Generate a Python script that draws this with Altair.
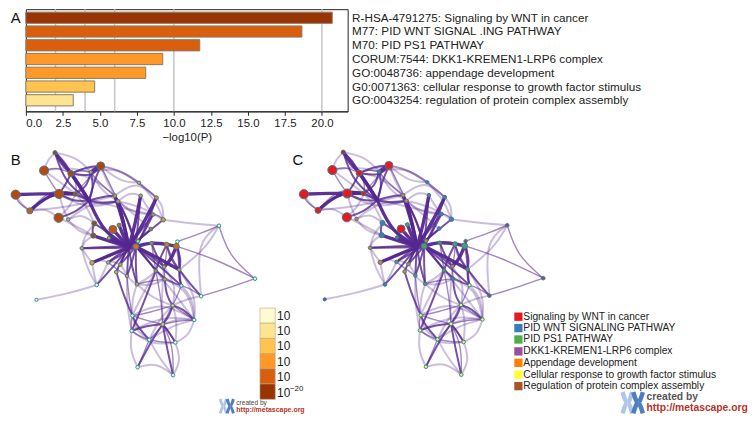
import altair as alt
import pandas as pd

# ---------- bar panel ----------
terms = ["R-HSA-4791275: Signaling by WNT in cancer", "M77: PID WNT SIGNAL .ING PATHWAY",
         "M70: PID PS1 PATHWAY", "CORUM:7544: DKK1-KREMEN1-LRP6 complex",
         "GO:0048736: appendage development", "G0:0071363: cellular response to growth factor stimulus",
         "GO:0043254: regulation of protein complex assembly"]
log_p = [20.7, 18.65, 11.75, 9.25, 8.1, 4.65, 3.2]
bar_colors = ["#993404", "#D95F0E", "#D95F0E", "#FE9929", "#FE9929", "#FEC44F", "#FEE391"]
grid_vals = [2, 4, 6, 10, 20]
tick_vals = [0, 2.5, 5, 7.5, 10, 12.5, 15, 17.5, 20]

# ---------- network nodes (panel B coordinates) ----------
node_x = [52.7, 41.7, 68.7, 88.7, 98.7, 13, 56.7, 73.3, 27.3, 56.3, 66, 137.3, 139, 113, 116.3, 155, 151.7, 161.7,
          149.3, 111, 117.3, 107, 92.3, 91.3, 79.7, 90, 106.3, 118.5, 114.5, 125.3, 94.7, 135.3, 136.3, 134.3, 150,
          165.3, 175, 176, 218, 254.3, 200, 180, 178, 162.7, 154.3, 163.3, 171.3, 193, 130.7, 130, 161.3, 147.7,
          174, 136, 171.7, 34]
node_y = [150.7, 168.7, 171.7, 170.3, 164, 193, 192.3, 192.3, 209.3, 216.3, 218, 181, 194, 194, 199.7, 196, 213,
          218.3, 227.7, 228, 223.7, 236.7, 222, 234.3, 247, 261.7, 261.3, 263.5, 271, 275, 284, 283.3, 240, 245.3,
          242, 243.3, 245, 240.3, 224.3, 277.7, 295.3, 284.7, 268.7, 265.7, 269.7, 278.3, 304.7, 319.3, 315, 330.3,
          323.7, 339.3, 342, 367, 375, 299]
node_size = [18, 85, 38, 12, 65, 85, 85, 22, 38, 85, 12, 12, 13, 14, 14, 14, 14, 20, 14, 65, 16, 12, 26, 26, 13, 20,
             12, 13, 14, 13, 14, 14, 12, 34, 13, 22, 34, 12, 13, 13, 13, 12, 13, 13, 13, 13, 13, 13, 13, 13, 15, 13,
             13, 13, 13, 10]
fill_b = ["#8A4F24", "#B5490F", "#A64A14", "#D29A4A", "#A8480F", "#B5490F", "#B5490F", "#8A5A2B", "#C0601C", "#B5490F",
          "#B8B070", "#C8B060", "#C8A050", "#C89A45", "#C89A45", "#C89A45", "#B8924A", "#D8963C", "#9A7A40", "#C0561A",
          "#A87A3A", "#C8A050", "#8A4F24", "#8A4F24", "#B8B070", "#E0A040", "#B8B070", "#C8A050", "#E0A040", "#C8A050",
          "#E4FBD4", "#C8A050", "#B8E0A8", "#D8701C", "#A89050", "#D8781C", "#D06818", "#E4FBD4", "#E4FBD4", "#E4FBD4",
          "#E4FBD4", "#D0ECA0", "#C8A050", "#C8A050", "#A89050", "#C8A050", "#E0C860", "#E4FBD4", "#E4FBD4", "#E4FBD4",
          "#D8C860", "#E4FBD4", "#E4FBD4", "#E4FBD4", "#E4FBD4", "#E4FBD4"]
RED, BLU, GRN, TAN, GRY, YGN = "#E41A1C", "#2F86B8", "#3CA56A", "#C98A35", "#5A6570", "#DFF77A"
fill_c = ["#8C3A3A", RED, RED, BLU, RED, RED, RED, "#C02A30", RED, RED,
          TAN, BLU, BLU, TAN, TAN, BLU, BLU, BLU, BLU, RED,
          GRN, BLU, BLU, BLU, TAN, TAN, GRN, TAN, TAN, GRN,
          BLU, GRN, TAN, GRN, GRN, GRN, GRN, GRY, GRY, GRY,
          GRY, YGN, GRN, TAN, GRN, BLU, YGN, YGN, YGN, YGN,
          YGN, YGN, YGN, YGN, YGN, "#3F5FA8"]
panel_dx = [0, 290.6]
panel_dy = [0, -0.5]
H = (127, 246)
U = (87, 199)

# (from node, to node, class, control point)
edges_faint = [
    (1, 0, "f", (45, 158)), (1, 7, "f", (60, 182)), (1, 3, "f", (65, 165)), (5, 8, "f", (18, 202)), (9, 8, "f", (42, 206)),
    (9, 7, "f", (68, 205)), (10, 22, "f", (80, 212)), (10, 6, "f", (60, 205)), (10, 14, "f", (90, 200)),
    (3, 11, "f", (115, 165)), (4, 11, "f", (118, 180)), (4, 13, "f", (105, 180)), (11, 15, "f", (148, 190)),
    (13, 15, "f", (135, 178)), (14, 12, "f", (128, 190)), (12, 16, "f", (145, 205)), (15, 17, "f", (162, 205)),
    (14, 16, "f", (132, 212)), (11, 17, "f", (155, 200)), (7, 14, "f", (95, 205)), (8, 13, "f", (70, 205)),
    (0, 3, "f", (75, 155)), (2, 11, "f", (105, 160)), (6, 14, "f", (85, 208)), (9, 23, "f", (75, 225)),
    (22, 24, "f", (82, 235)), (23, 24, "f", (82, 240)), (24, 25, "f", (85, 255)), (25, 26, "f", (98, 258)),
    (26, 27, "f", (112, 260)), (27, 29, "f", (122, 268)), (24, 30, "f", (85, 268)), (25, 30, "f", (92, 273)),
    (30, 26, "f", (100, 275)), (55, 30, "f", (65, 293)), (38, 42, "f", (205, 247)), (38, 40, "f", (195, 240)),
    (17, 38, "f", (190, 222)), (46, 40, "f", (186, 298)), (41, 47, "f", (192, 298)), (31, 44, "f", (147, 277)),
    (29, 31, "f", (130, 280)), (31, 48, "f", (130, 300)), (29, 49, "f", (125, 305)), (44, 47, "f", (175, 295)),
    (45, 47, "f", (188, 290)), (43, 46, "f", (175, 285)), (42, 47, "f", (195, 295)), (31, 46, "f", (152, 298)),
    (48, 47, "f", (160, 300)), (49, 47, "f", (162, 315)), (51, 46, "f", (158, 318)), (52, 47, "f", (188, 335)),
    (53, 54, "f", (155, 362)), (54, 52, "f", (180, 360)), (52, 46, "f", (176, 320)), (51, 47, "f", (170, 325)),
    (48, 51, "f", (134, 330)), (49, 52, "f", (150, 345)), (50, 47, "f", (178, 318)), (53, 49, "f", (128, 350)),
    (51, 54, "f", (158, 358)), (45, 31, "f", (150, 285)), (44, 48, "f", (140, 295)), (43, 50, "f", (160, 295)),
    (13, 2, "f", (90, 175)), (14, 3, "f", (100, 190)), (16, 7, "f", (110, 205)), (17, 14, "f", (140, 205)),
    (15, 4, "f", (125, 170)), (18, 14, "f", (135, 215)), (22, 7, "f", (85, 205)), (23, 10, "f", (75, 230)),
]
edges_light = [
    (36, 39, "l", (215, 258)), (37, 38, "l", (200, 232)), (38, 39, "l", (228, 255)), (39, 40, "l", (225, 288)),
    (40, 41, "l", (190, 288)), (4, 7, "l", (85, 178)), (3, 2, "l", (78, 168)), (1, 2, "l", (55, 165)), (1, 6, "l", (48, 180)),
    (2, 7, "l", (75, 182)), (0, 2, "l", (62, 158)), (5, 8, "l", (14, 200)), (8, 7, "l", (48, 186)), (3, 13, "l", (98, 182)),
    (4, 14, "l", (108, 182)), (13, 14, "l", (115, 197)), (16, 17, "l", (158, 214)), (36, 41, "l", (178, 265)),
    (35, 42, "l", (168, 258)), (34, 44, "l", (152, 255)), (35, 43, "l", (165, 255)), (44, 41, "l", (168, 280)),
    (45, 41, "l", (172, 282)), (43, 45, "l", (163, 272)), (42, 41, "l", (178, 277)), (41, 46, "l", (176, 295)),
    (44, 50, "l", (160, 300)), (48, 49, "l", (129, 322)), (49, 51, "l", (138, 336)), (51, 50, "l", (155, 332)),
    (50, 52, "l", (168, 332)), (46, 50, "l", (167, 313)), (51, 52, "l", (160, 342)), (53, 51, "l", (142, 353)),
    (54, 50, "l", (172, 345)), (47, 50, "l", (178, 320)), (48, 50, "l", (145, 320)), (46, 48, "l", (148, 312)),
    (46, 47, "l", (182, 312)), (29, 48, "l", (127, 295)), (26, 29, "l", (115, 268)), (31, 45, "l", (148, 280)),
]
edges_mid = [
    (8, 6, "m", (40, 197)), (0, 2, "m", (58, 162)), (2, 6, "m", (64, 182)), (6, 7, "m", (65, 190)), (4, 2, "m", (84, 165)),
    (7, U, "m", None), (3, U, "m", (92, 185)), (4, U, "m", (92, 180)), (13, U, "m", (100, 195)), (14, U, "m", (100, 202)),
    (22, H, "m", (108, 232)), (16, H, "m", (140, 228)), (17, H, "m", (145, 232)), (18, H, "m", (138, 238)),
    (26, H, "m", (118, 252)), (27, H, "m", (122, 255)), (28, H, "m", (120, 258)), (29, H, "m", (126, 260)),
    (30, H, "m", (112, 265)), (31, H, "m", (130, 265)), (24, H, "m", (105, 247)), (43, 33, "m", (150, 255)),
    (45, 33, "m", (148, 262)), (44, 33, "m", (145, 257)), (41, 33, "m", (158, 265)), (40, 42, "m", (188, 282)),
    (42, 41, "m", (178, 278)), (49, 50, "m", (145, 325)), (53, 50, "m", (150, 340)), (48, 51, "m", (135, 325)),
    (50, 46, "m", (168, 315)), (45, 46, "m", (165, 295)), (44, 49, "m", (143, 300)), (28, 48, "m", (122, 295)),
    (54, 50, "m", (165, 345)), (47, 46, "m", (182, 308)), (50, 52, "m", (168, 332)), (37, 42, "m", (178, 255)),
    (0, U, "m", (62, 180)), (2, 4, "m", (90, 175)), (3, 7, "m", (85, 185)), (6, U, "m", (72, 200)), (9, U, "m", (75, 210)),
    (22, 23, "m", (90, 228)), (13, 33, "m", (125, 215)), (14, 33, "m", (128, 222)), (12, 33, "m", (136, 225)),
    (15, 33, "m", (145, 225)), (16, 33, "m", (142, 232)), (42, 35, "m", (170, 258)), (36, 42, "m", (180, 258)),
    (43, 34, "m", (155, 255)), (44, 35, "m", (158, 258)), (25, 33, "m", (112, 252)), (26, 33, "m", (122, 252)),
    (27, 33, "m", (126, 255)), (31, 33, "m", (134, 265)), (29, 33, "m", (130, 262)), (24, 33, "m", (110, 245)),
]
edges_heavy = [
    (5, 7, "h", (38, 192)), (0, U, "h", (70, 172)), (2, U, "h", (78, 185)), (U, H, "h", (102, 232)), (12, H, "h", (133, 225)),
    (15, H, "h", (142, 222)), (13, H, "h", (122, 222)), (14, H, "h", (123, 225)), (19, H, "h", (118, 236)),
    (20, H, "h", (122, 236)), (21, H, "h", (116, 241)), (23, H, "h", (108, 240)), (25, H, "h", (108, 254)),
    (34, 33, "h", (142, 243)), (35, 34, "h", (158, 242)), (36, 35, "h", (170, 244)), (42, 33, "h", (155, 256)),
    (43, 36, "h", (170, 258)), (8, 7, "h", (50, 190)), (4, 3, "h", (93, 167)),
]
edge_style_w = {"f": 2.0, "l": 1.4, "m": 2.0, "h": 3.4}
edge_style_o = {"f": 0.3, "l": 0.55, "m": 0.8, "h": 0.95}
EDGE_COLOR = "#54278F"

# ---------- legends ----------
scale_colors = ["#FFFBD0", "#FEE391", "#FEC44F", "#FE9929", "#D95F0E", "#993404"]
scale_tops = [307.3, 322.6, 337.9, 353.2, 368.5, 383.8]
scale_bottoms = [322.6, 337.9, 353.2, 368.5, 383.8, 399.3]
scale_label_y = [315, 330.5, 346, 361.5, 377, 392.5]
legend_names = ["Signaling by WNT in cancer", "PID WNT SIGNALING PATHWAY", "PID PS1 PATHWAY", "DKK1-KREMEN1-LRP6 complex",
                "Appendage development", "Cellular response to growth factor stimulus",
                "Regulation of protein complex assembly"]
legend_colors = ["#E41A1C", "#377EB8", "#4DAF4A", "#984EA3", "#FF7F00", "#FFFF33", "#A65628"]
legend_y = [316, 327.5, 339, 351, 362.5, 374.5, 386]

YTOP = 142
XL, XR, YB = 23.3, 747.5, 413.5

# ---------- top chart ----------
bars = pd.DataFrame({"term": terms, "v": log_p, "c": bar_colors})
x_enc = alt.X("v:Q", scale=alt.Scale(domain=[0, 21.74], nice=False, zero=True),
              axis=alt.Axis(values=tick_vals, format=".1f", grid=False, title="−log10(P)", tickSize=4, tickColor="#222",
                            domainColor="#222", labelFontSize=11.5, titleFontSize=11.5, titleFontWeight="normal",
                            labelFont="Liberation Sans", titleFont="Liberation Sans", labelColor="#222", titleColor="#222",
                            labelPadding=2, titlePadding=3))
grid = alt.Chart(pd.DataFrame({"v": grid_vals})).mark_rule(color="#C4C4C4", strokeWidth=1.5).encode(x=x_enc)
bar = alt.Chart(bars).mark_bar(stroke="#8C7A60", strokeWidth=1).encode(
    x=x_enc,
    y=alt.Y("term:N", sort=terms, scale=alt.Scale(range=[3, 97.5], paddingInner=0.185, paddingOuter=0),
            axis=alt.Axis(orient="right", title=None, domain=False, ticks=False, labelLimit=400, labelFontSize=11.8,
                          labelPadding=4, labelColor="#222", labelFont="Liberation Sans", labelOverlap=False)),
    fill=alt.Fill("c:N", scale=None))
letter_a = alt.Chart(pd.DataFrame({"t": ["A"]})).mark_text(align="left", baseline="middle", fontSize=15,
                                                            font="Liberation Sans", color="#111").encode(
    x=alt.value(-15.3), y=alt.value(8.5), text="t:N")
top = alt.layer(grid, bar, letter_a).properties(width=324.4, height=103,
                                                view=alt.ViewBackground(stroke="#222", strokeWidth=1))

# ---------- bottom chart ----------
xs = alt.Scale(domain=[XL, XR], nice=False, zero=False)
ys = alt.Scale(domain=[YB, YTOP], nice=False, zero=False)

edge_rows = []
eid = 0
for edges in (edges_faint, edges_light, edges_mid, edges_heavy):
    for a, b, k, via in edges:
        pa = a if isinstance(a, tuple) else (node_x[a], node_y[a])
        pb = b if isinstance(b, tuple) else (node_x[b], node_y[b])
        pm = via if via is not None else ((pa[0] + pb[0]) / 2, (pa[1] + pb[1]) / 2)
        for dx, dy in zip(panel_dx, panel_dy):
            for o, p in enumerate((pa, pm, pb)):
                edge_rows.append({"id": eid, "o": o, "x": p[0] + dx, "y": p[1] + dy,
                                  "w": edge_style_w[k], "op": edge_style_o[k]})
            eid += 1
edges_df = pd.DataFrame(edge_rows)
links = alt.Chart(edges_df).mark_line(interpolate="basis", color=EDGE_COLOR, strokeCap="round").encode(
    x=alt.X("x:Q", scale=xs, axis=None), y=alt.Y("y:Q", scale=ys, axis=None), detail="id:N", order="o:Q",
    strokeWidth=alt.StrokeWidth("w:Q", scale=None), opacity=alt.Opacity("op:Q", scale=None))

node_rows = []
for i in range(len(node_x)):
    pale = fill_b[i] in ("#E4FBD4", "#D0ECA0", "#B8E0A8")
    node_rows.append({"x": node_x[i], "y": node_y[i], "s": node_size[i], "f": fill_b[i],
                      "st": "#2F8F90" if pale else "#4D7580"})
    yg = fill_c[i] == YGN
    node_rows.append({"x": node_x[i] + panel_dx[1], "y": node_y[i] + panel_dy[1], "s": node_size[i], "f": fill_c[i],
                      "st": "#3F8F6F" if yg else "#55708A"})
nodes = alt.Chart(pd.DataFrame(node_rows)).mark_point(filled=True, shape="circle", opacity=1, strokeWidth=1).encode(
    x=alt.X("x:Q", scale=xs, axis=None), y=alt.Y("y:Q", scale=ys, axis=None),
    size=alt.Size("s:Q", scale=None), fill=alt.Fill("f:N", scale=None), stroke=alt.Stroke("st:N", scale=None))


def text_layer(rows, **kw):
    return alt.Chart(pd.DataFrame(rows)).mark_text(align="left", baseline="middle", **kw).encode(
        x=alt.X("x:Q", scale=xs, axis=None), y=alt.Y("y:Q", scale=ys, axis=None), text="t:N")


letters = text_layer([{"x": 8, "y": 158, "t": "B"}, {"x": 292, "y": 158, "t": "C"}], fontSize=15, font="Liberation Sans", color="#111")

scale_df = pd.DataFrame({"x": [259.3] * 6, "x2": [274.7] * 6, "y": scale_tops, "y2": scale_bottoms, "c": scale_colors})
scale_rect = alt.Chart(scale_df).mark_rect(stroke="#B8A888", strokeWidth=0.6).encode(
    x=alt.X("x:Q", scale=xs, axis=None), x2="x2:Q", y=alt.Y("y:Q", scale=ys, axis=None), y2="y2:Q",
    fill=alt.Fill("c:N", scale=None))
scale_text = text_layer([{"x": 276.5, "y": y, "t": "10"} for y in scale_label_y], fontSize=12, font="Liberation Sans", color="#222")
scale_sup = text_layer([{"x": 289.5, "y": 389, "t": "−20"}], fontSize=8, font="Liberation Sans", color="#222")

sw_df = pd.DataFrame({"x": [515.7] * 7, "x2": [524] * 7, "y": [v - 4.2 for v in legend_y], "y2": [v + 4.2 for v in legend_y],
                      "c": legend_colors})
sw = alt.Chart(sw_df).mark_rect().encode(
    x=alt.X("x:Q", scale=xs, axis=None), x2="x2:Q", y=alt.Y("y:Q", scale=ys, axis=None), y2="y2:Q",
    fill=alt.Fill("c:N", scale=None))
sw_text = text_layer([{"x": 524.8, "y": y, "t": t} for y, t in zip(legend_y, legend_names)], fontSize=10.3,
                     font="Liberation Sans", color="#222")

# metascape marks: two chromosomes, in (left, top, size) boxes
logo_boxes = [(218, 399, 15, 14.5, 3.0), (623, 392, 23, 21.5, 4.5)]
logo_arc_u = [[0.08, 0.3, 0.08], [0.5, 0.3, 0.5], [0.55, 0.76, 0.55], [0.97, 0.76, 0.97]]
logo_arc_c = ["#AFC6E8", "#AFC6E8", "#4F7FBF", "#4F7FBF"]
logo_v = [0, 0.5, 1]
rows = []
nid = 0
for bx, by, bw, bh, w in logo_boxes:
    for arc, c in zip(logo_arc_u, logo_arc_c):
        for o, (u, v) in enumerate(zip(arc, logo_v)):
            rows.append({"id": nid, "o": o, "x": bx + u * bw, "y": by + v * bh, "c": c, "w": w})
        nid += 1
logos = alt.Chart(pd.DataFrame(rows)).mark_line(interpolate="monotone").encode(
    x=alt.X("x:Q", scale=xs, axis=None), y=alt.Y("y:Q", scale=ys, axis=None), detail="id:N", order="o:Q",
    stroke=alt.Stroke("c:N", scale=None), strokeWidth=alt.StrokeWidth("w:Q", scale=None))
created_small = text_layer([{"x": 235.5, "y": 403, "t": "created by"}], fontSize=6.6, font="Liberation Sans", color="#444")
url_small = text_layer([{"x": 235.5, "y": 410, "t": "http://metascape.org"}], fontSize=7, fontWeight="bold",
                       font="Liberation Sans", color="#B5342A")
created_big = text_layer([{"x": 649, "y": 397, "t": "created by"}], fontSize=10.4, fontWeight="bold",
                         font="Liberation Sans", color="#555")
url_big = text_layer([{"x": 649, "y": 408, "t": "http://metascape.org"}], fontSize=10.4, fontWeight="bold",
                     font="Liberation Sans", color="#B5342A")

bottom = alt.layer(links, nodes, letters, scale_rect, scale_text, scale_sup, sw, sw_text, logos,
                   created_small, url_small, created_big, url_big).properties(
    width=XR - XL, height=YB - YTOP)

chart = alt.vconcat(top, bottom, spacing=0).properties(
    padding=alt.Padding(top=-2.5, left=0, right=0, bottom=0)).configure_view(stroke=None)
chart.save("out.html", embed_options={"renderer": "svg", "actions": False})
